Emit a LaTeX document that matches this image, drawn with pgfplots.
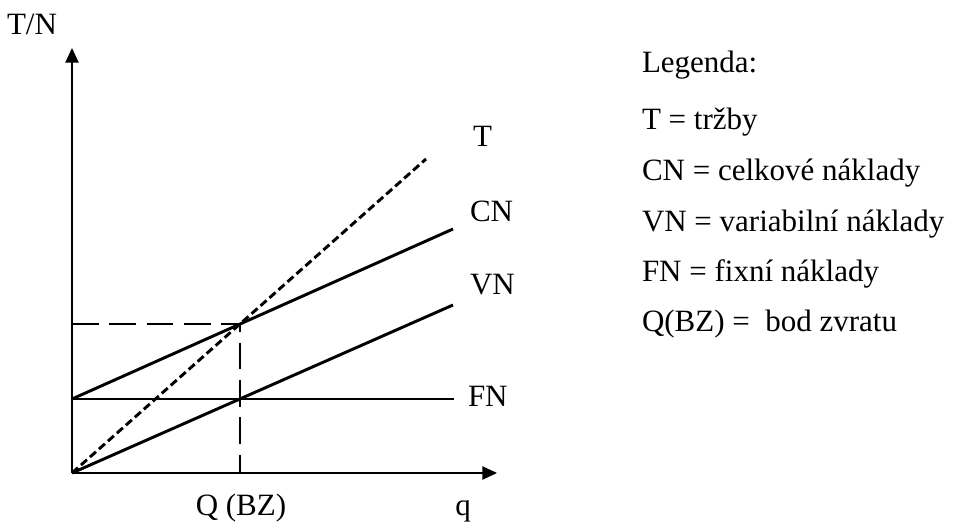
\documentclass[border=0pt]{standalone}
\usepackage{fontspec}
\setmainfont{Liberation Serif}
\usepackage{pgfplots}
\pgfplotsset{compat=1.18}
\usetikzlibrary{arrows.meta}
\tikzset{lab/.style={font=\fontsize{23.25}{28}\selectfont, inner sep=0pt, outer sep=0pt}}
\begin{document}
\begin{tikzpicture}
\path[use as bounding box] (0,0) rectangle (717pt,393.75pt);
\begin{axis}[
  at={(54pt,39pt)}, anchor=origin,
  scale only axis, width=318.75pt, height=318.75pt,
  xmin=0, xmax=425, ymin=0, ymax=425,
  axis lines=left,
  axis line style={line width=1pt, -{Triangle[length=11pt,width=10pt]}},
  xtick=\empty, ytick=\empty,
  clip=false,
]
% T (trzby)
\addplot[black, line width=2.2pt, dash pattern=on 6pt off 3pt] coordinates {(0,0) (354,314)};
% CN
\addplot[black, line width=2.2pt] coordinates {(0,74) (381,244)};
% VN
\addplot[black, line width=2.2pt] coordinates {(0,0) (381,168)};
% FN
\addplot[black, line width=2.2pt] coordinates {(0,74) (382,74)};
% break-even guides
\addplot[black, line width=2.2pt, dash pattern=on 20pt off 8pt] coordinates {(0,149) (168,149) (168,0)};

\node[lab, anchor=base west] at (axis cs:401,326) {T};
\node[lab, anchor=base west] at (axis cs:398,251) {CN};
\node[lab, anchor=base west] at (axis cs:398,178) {VN};
\node[lab, anchor=base west] at (axis cs:396,67) {FN};
\node[lab, anchor=base] at (axis cs:169,-42) {Q (BZ)};
\node[lab, anchor=base] at (axis cs:391,-42) {q};
\node[lab, anchor=base] at (axis cs:-40,438) {T/N};

\node[lab, anchor=base west] at (axis cs:570,400) {Legenda:};
\node[lab, anchor=base west] at (axis cs:570,343) {T = tržby};
\node[lab, anchor=base west] at (axis cs:570,292) {CN = celkové náklady};
\node[lab, anchor=base west] at (axis cs:570,241) {VN = variabilní náklady};
\node[lab, anchor=base west] at (axis cs:570,191) {FN = fixní náklady};
\node[lab, anchor=base west] at (axis cs:570,141) {Q(BZ) =\ \ bod zvratu};
\end{axis}
\end{tikzpicture}
\end{document}
